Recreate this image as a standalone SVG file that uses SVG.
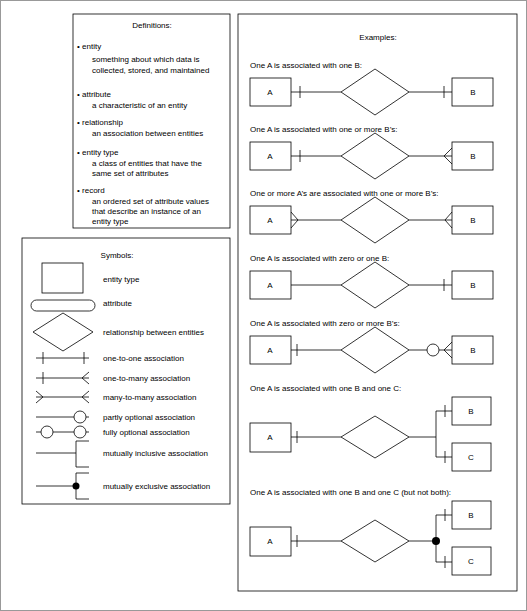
<svg xmlns="http://www.w3.org/2000/svg" width="527" height="611" viewBox="0 0 527 611">
<style>
text{font-family:"Liberation Sans",Arial,sans-serif;font-size:8px;fill:#000}
.c{text-anchor:middle}
.b{fill:#fff;stroke:#000;stroke-width:0.8}
.l{fill:none;stroke:#000;stroke-width:0.8}
</style>
<rect x="0.5" y="0.5" width="526" height="610" fill="#fff" stroke="#999"/>
<g id="definitions">
<rect class="b" x="73" y="14" width="157" height="214"/>
<text class="c" x="152" y="28">Definitions:</text>
<text x="77" y="49">• entity</text>
<text x="92" y="62">something about which data is</text>
<text x="92" y="73">collected, stored, and maintained</text>
<text x="77" y="97">• attribute</text>
<text x="92" y="108">a characteristic of an entity</text>
<text x="77" y="125">• relationship</text>
<text x="92" y="136">an association between entities</text>
<text x="77" y="155">• entity type</text>
<text x="92" y="166">a class of entities that have the</text>
<text x="92" y="176">same set of attributes</text>
<text x="77" y="193">• record</text>
<text x="92" y="204">an ordered set of attribute values</text>
<text x="92" y="214">that describe an instance of an</text>
<text x="92" y="224">entity type</text>
</g>
<g id="symbols">
<rect class="b" x="22" y="238" width="208" height="266"/>
<text class="c" x="117" y="258">Symbols:</text>
<rect class="b" x="42" y="263" width="41" height="30"/>
<rect class="b" x="31" y="300" width="64" height="11" rx="5.5"/>
<polygon class="b" points="33,332 63,313 93,332 63,351"/>
<text x="103" y="282">entity type</text>
<text x="103" y="306">attribute</text>
<text x="103" y="335">relationship between entities</text>
<text x="103" y="361">one-to-one association</text>
<text x="103" y="381">one-to-many association</text>
<text x="103" y="400">many-to-many association</text>
<text x="103" y="420">partly optional association</text>
<text x="103" y="435">fully optional association</text>
<text x="103" y="456">mutually inclusive association</text>
<text x="103" y="489">mutually exclusive association</text>
<path class="l" d="M36 358H89M43 352V364M84 352V364"/>
<path class="l" d="M36 378H89M43 372V384M89 372L82 378L89 384"/>
<path class="l" d="M36 397H89M36 391L43 397L36 403M89 391L82 397L89 403"/>
<path class="l" d="M36 417H74M86 417H89"/>
<circle class="b" cx="80" cy="417" r="6"/>
<path class="l" d="M36 432H41M53 432H74M86 432H89"/>
<circle class="b" cx="47" cy="432" r="6"/>
<circle class="b" cx="80" cy="432" r="6"/>
<path class="l" d="M36 453H76M89 441H76V467H89"/>
<path class="l" d="M36 486H76M89 473H76V499H89"/>
<circle cx="76" cy="486" r="3.5" fill="#000"/>
</g>
<g id="examples">
<rect class="b" x="238" y="14" width="279" height="577"/>
<text class="c" x="378" y="40">Examples:</text>
<text x="250" y="68">One A is associated with one B:</text>
<text x="250" y="132">One A is associated with one or more B’s:</text>
<text x="250" y="196">One or more A’s are associated with one or more B’s:</text>
<text x="250" y="261">One A is associated with zero or one B:</text>
<text x="250" y="326">One A is associated with zero or more B’s:</text>
<text x="250" y="391">One A is associated with one B and one C:</text>
<text x="250" y="495">One A is associated with one B and one C (but not both):</text>
</g>
<g id="nodes">
<g id="r1"><rect class="b" x="250" y="78" width="41" height="28"/><text class="c" x="270" y="95">A</text><rect class="b" x="452" y="78" width="41" height="28"/><text class="c" x="473" y="95">B</text><polygon class="b" points="341,92 375,69 409,92 375,115"/></g>
<g id="r2"><rect class="b" x="250" y="142" width="41" height="28"/><text class="c" x="270" y="159">A</text><rect class="b" x="452" y="142" width="41" height="28"/><text class="c" x="473" y="159">B</text><polygon class="b" points="341,156 375,133 409,156 375,179"/></g>
<g id="r3"><rect class="b" x="250" y="206" width="41" height="28"/><text class="c" x="270" y="223">A</text><rect class="b" x="452" y="206" width="41" height="28"/><text class="c" x="473" y="223">B</text><polygon class="b" points="341,220 375,197 409,220 375,243"/></g>
<g id="r4"><rect class="b" x="250" y="271" width="41" height="28"/><text class="c" x="270" y="288">A</text><rect class="b" x="452" y="271" width="41" height="28"/><text class="c" x="473" y="288">B</text><polygon class="b" points="341,285 375,262 409,285 375,308"/></g>
<g id="r5"><rect class="b" x="250" y="336" width="41" height="28"/><text class="c" x="270" y="353">A</text><rect class="b" x="452" y="336" width="41" height="28"/><text class="c" x="473" y="353">B</text><polygon class="b" points="341,350 375,327 409,350 375,373"/></g>
<g id="r6"><rect class="b" x="250" y="423" width="41" height="29"/><text class="c" x="270" y="440">A</text><rect class="b" x="452" y="397" width="39" height="28"/><text class="c" x="471" y="414">B</text><rect class="b" x="452" y="443" width="39" height="28"/><text class="c" x="471" y="460">C</text><polygon class="b" points="341,437 375,416 409,437 375,458"/></g>
<g id="r7"><rect class="b" x="250" y="527" width="41" height="29"/><text class="c" x="270" y="544">A</text><rect class="b" x="452" y="501" width="39" height="28"/><text class="c" x="471" y="518">B</text><rect class="b" x="452" y="547" width="39" height="28"/><text class="c" x="471" y="564">C</text><polygon class="b" points="341,541 375,520 409,541 375,562"/></g>
</g>
<g id="connectors">
<path class="l" d="M291 92H341M409 92H452M300 86V98M444 86V98"/>
<path class="l" d="M291 156H341M409 156H452M300 150V162M452 148L444 156L452 164"/>
<path class="l" d="M291 220H341M409 220H452M291 212L298 220L291 228M452 212L445 220L452 228"/>
<path class="l" d="M291 285H341M409 285H452M444 279V291"/>
<path class="l" d="M291 350H341M409 350H427M439 350H452M297 344V356M452 342L444 350L452 358"/>
<circle class="b" cx="433" cy="350" r="6"/>
<path class="l" d="M291 437H341M409 437H436M297 431V443M452 411H436V457H452M445 405V417M445 451V463"/>
<path class="l" d="M291 541H341M409 541H436M297 535V547M452 515H436V562H452M445 509V521M445 556V568"/>
<circle cx="436" cy="541" r="4" fill="#000"/>
</g>
</svg>
